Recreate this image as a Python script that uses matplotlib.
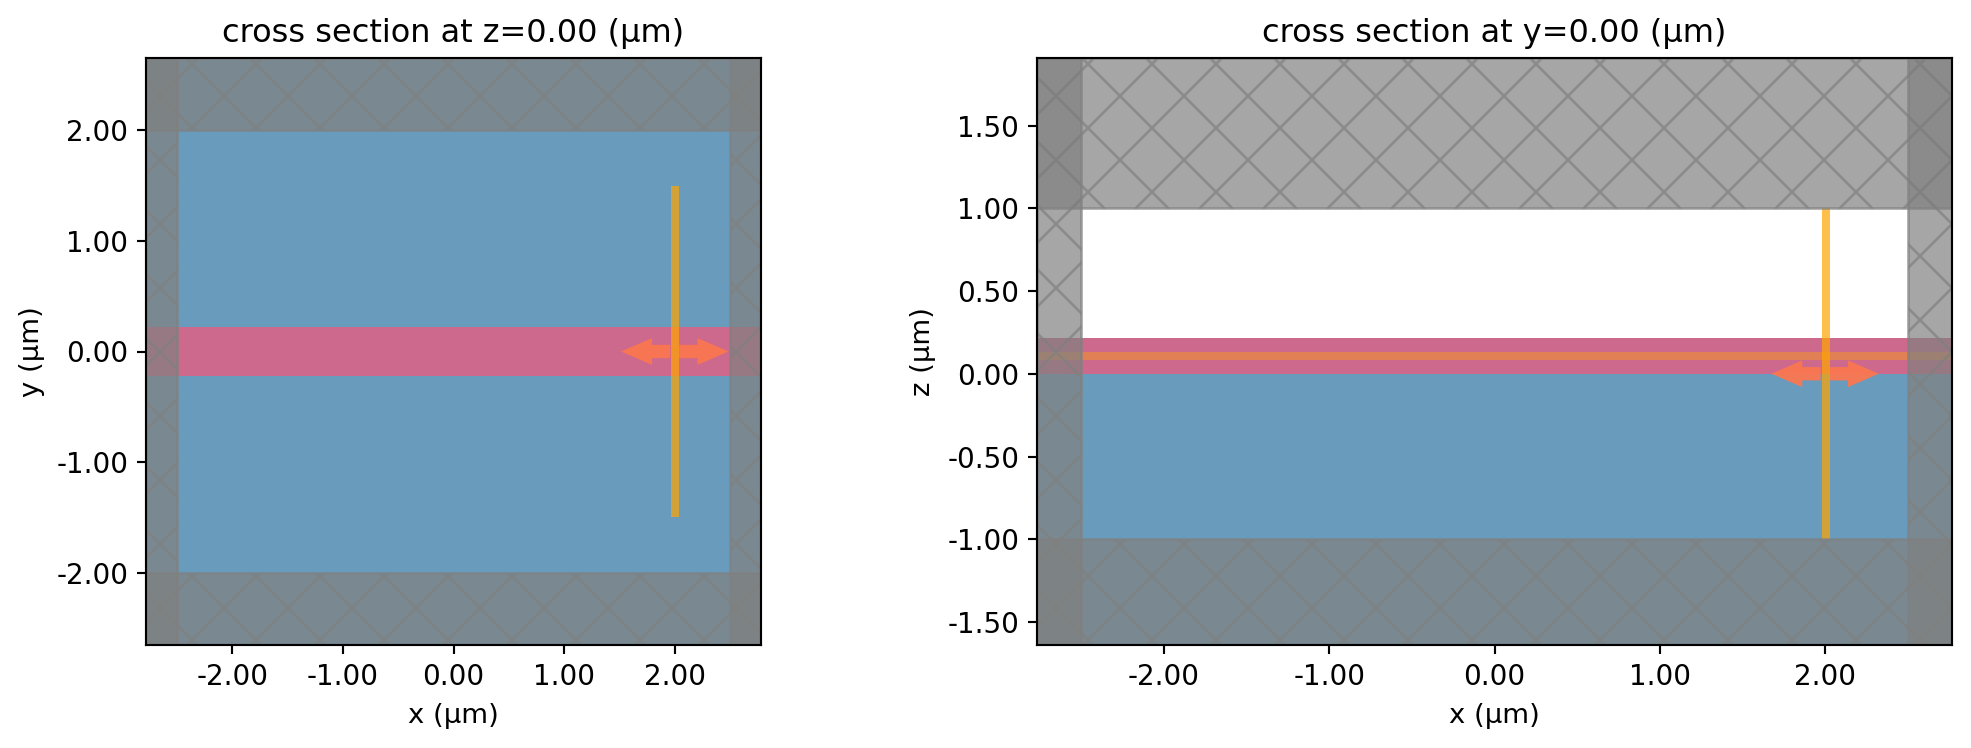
#!/usr/bin/env python3
"""Two cross sections of a waveguide simulation, PML regions hatched."""
import matplotlib

matplotlib.use("Agg")
import matplotlib.pyplot as plt
from matplotlib.patches import FancyArrowPatch, Rectangle

W_PX, H_PX, DPI = 1971, 748, 192

BLUE = "#699bbc"
PINK = "#cd698c"
PML_GRAY = "gray"
BAND = "orange"
ARROW = "#fb7650"

# left panel: cross section at z=0
XLIM_L = (-2.78, 2.78)
YLIM_L = (-2.654, 2.654)
WG_HALF_WIDTH = 0.225
PML_X_INNER = 2.5
PML_Y_INNER = 2.0
MONITOR_X = 2.0
MONITOR_Y = (-1.5, 1.5)
ARROW_HALF_L = 0.486

# right panel: cross section at y=0
XLIM_R = (-2.768, 2.768)
ZLIM_R = (-1.639, 1.908)
SUBSTRATE_TOP = 0.0
WG_TOP = 0.217
PML_Z_INNER = 1.0
SOURCE_Z = 0.11
MONITOR_X_R = 2.005
MONITOR_Z = (-1.0, 1.0)
ARROW_HALF_R = 0.325

XTICKS = [-2, -1, 0, 1, 2]
YTICKS_L = [-2, -1, 0, 1, 2]
ZTICKS_R = [-1.5, -1.0, -0.5, 0.0, 0.5, 1.0, 1.5]


def px_axes(fig, left, right, top, bottom):
    return fig.add_axes([left / W_PX, 1 - bottom / H_PX, (right - left) / W_PX, (bottom - top) / H_PX])


def add_rect(ax, x0, x1, y0, y1, **kw):
    ax.add_patch(Rectangle((x0, y0), x1 - x0, y1 - y0, **kw))


def add_pml(ax, xlim, ylim, x_in, y_in):
    style = dict(facecolor=PML_GRAY, edgecolor=PML_GRAY, alpha=0.7, hatch="x", linewidth=1, zorder=10)
    add_rect(ax, xlim[0], -x_in, ylim[0], ylim[1], **style)
    add_rect(ax, x_in, xlim[1], ylim[0], ylim[1], **style)
    add_rect(ax, xlim[0], xlim[1], ylim[0], -y_in, **style)
    add_rect(ax, xlim[0], xlim[1], y_in, ylim[1], **style)


def add_arrow(ax, x, y, half, gap):
    # the polarization arrow is split by the monitor line
    for sign in (-1, 1):
        ax.add_patch(
            FancyArrowPatch(
                (x + sign * gap, y),
                (x + sign * half, y),
                arrowstyle="simple,head_length=11.6,head_width=10,tail_width=5",
                mutation_scale=1,
                shrinkA=0,
                shrinkB=0,
                linewidth=0,
                facecolor=ARROW,
                alpha=0.95,
                zorder=6,
            )
        )


def finish(ax, title, xlabel, ylabel, xlim, ylim, yticks):
    ax.set_xlim(*xlim)
    ax.set_ylim(*ylim)
    ax.set_xticks(XTICKS)
    ax.set_xticklabels([f"{v:.2f}" for v in XTICKS])
    ax.set_yticks(yticks)
    ax.set_yticklabels([f"{v:.2f}" for v in yticks])
    ax.tick_params(labelsize=10.4, length=3.2)
    ax.set_xlabel(xlabel, fontsize=10.3, labelpad=4.4)
    ax.set_ylabel(ylabel, fontsize=10.3)
    ax.set_title(title)
    for spine in ax.spines.values():
        spine.set_zorder(20)


def main():
    plt.rcParams["axes.unicode_minus"] = False
    fig = plt.figure(figsize=(W_PX / DPI, H_PX / DPI), dpi=DPI)

    ax = px_axes(fig, 146, 761, 58, 645)
    add_rect(ax, *XLIM_L, *YLIM_L, facecolor=BLUE, linewidth=0, zorder=1)
    add_rect(ax, *XLIM_L, -WG_HALF_WIDTH, WG_HALF_WIDTH, facecolor=PINK, linewidth=0, zorder=2)
    ax.plot([MONITOR_X, MONITOR_X], MONITOR_Y, color=BAND, alpha=0.7, linewidth=3, solid_capstyle="butt", zorder=7)
    add_arrow(ax, MONITOR_X, 0.0, ARROW_HALF_L, 0.04)
    add_pml(ax, XLIM_L, YLIM_L, PML_X_INNER, PML_Y_INNER)
    finish(ax, "cross section at z=0.00 (μm)", "x (μm)", "y (μm)", XLIM_L, YLIM_L, YTICKS_L)

    ax = px_axes(fig, 1037, 1952, 58, 645)
    add_rect(ax, *XLIM_R, ZLIM_R[0], SUBSTRATE_TOP, facecolor=BLUE, linewidth=0, zorder=1)
    add_rect(ax, *XLIM_R, SUBSTRATE_TOP, WG_TOP, facecolor=PINK, linewidth=0, zorder=2)
    ax.plot(XLIM_R, [SOURCE_Z, SOURCE_Z], color=BAND, alpha=0.4, linewidth=3, solid_capstyle="butt", zorder=5)
    ax.plot([MONITOR_X_R, MONITOR_X_R], MONITOR_Z, color=BAND, alpha=0.7, linewidth=3, solid_capstyle="butt", zorder=7)
    add_arrow(ax, MONITOR_X, 0.0, ARROW_HALF_R, 0.027)
    add_pml(ax, XLIM_R, ZLIM_R, PML_X_INNER, PML_Z_INNER)
    finish(ax, "cross section at y=0.00 (μm)", "x (μm)", "z (μm)", XLIM_R, ZLIM_R, ZTICKS_R)

    fig.savefig("out.png", dpi=DPI)
    plt.close(fig)


if __name__ == "__main__":
    main()
